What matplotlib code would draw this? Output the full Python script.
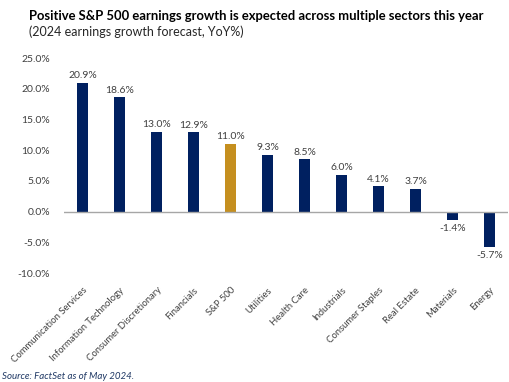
import matplotlib.pyplot as plt
from matplotlib.ticker import FuncFormatter

# 2024 earnings growth forecast by sector (YoY %)
sectors = ["Communication Services", "Information Technology", "Consumer Discretionary",
           "Financials", "S&P 500", "Utilities", "Health Care", "Industrials",
           "Consumer Staples", "Real Estate", "Materials", "Energy"]
growth = [20.9, 18.6, 13.0, 12.9, 11.0, 9.3, 8.5, 6.0, 4.1, 3.7, -1.4, -5.7]
yticks = [-10, -5, 0, 5, 10, 15, 20, 25]

navy = "#002060"
gold = "#C58F1F"
txt = "#404040"

plt.rcParams['font.family'] = ['Lato', 'DejaVu Sans']

fig = plt.figure(figsize=(5.09, 3.82), dpi=100)
ax = fig.add_axes([0.126, 0.285, 0.872, 0.563])

colors = [gold if s == "S&P 500" else navy for s in sectors]
x = range(len(sectors))
bars = ax.bar(x, growth, width=0.3, color=colors, zorder=2)

# value labels above / below each bar
for b, v in zip(bars, growth):
    xc = b.get_x() + b.get_width() / 2
    if v >= 0:
        ax.annotate(f"{v:.1f}%", (xc, v), xytext=(0, 2), textcoords="offset points",
                    ha="center", va="bottom", fontsize=7.5, color=txt)
    else:
        ax.annotate(f"{v:.1f}%", (xc, v), xytext=(0, -3), textcoords="offset points",
                    ha="center", va="top", fontsize=7.5, color=txt)

ax.axhline(0, color="#a6a6a6", lw=1, zorder=3)
ax.set_xlim(-0.5, len(sectors) - 0.5)
ax.set_ylim(-10, 25)
ax.set_yticks(yticks)
ax.yaxis.set_major_formatter(FuncFormatter(lambda v, p: f"{v:.1f}%"))
ax.set_xticks(list(x))
ax.set_xticklabels(sectors, rotation=45, ha="right", rotation_mode="anchor")
ax.tick_params(axis="both", length=0, labelsize=7.5, labelcolor=txt)
ax.tick_params(axis="x", pad=9, labelsize=6.8)
ax.tick_params(axis="y", pad=10)
for s in ax.spines.values():
    s.set_visible(False)

fig.text(0.057, 0.958, "Positive S&P 500 earnings growth is expected across multiple sectors this year",
         fontsize=9.4, fontweight="bold", color="#000000", va="center")
fig.text(0.057, 0.918, "(2024 earnings growth forecast, YoY%)",
         fontsize=9, color="#262626", va="center")
fig.text(0.004, 0.015, "Source: FactSet as of May 2024.",
         fontsize=7, style="italic", color="#1f3864", va="center")

fig.savefig("out.png", dpi=100)
